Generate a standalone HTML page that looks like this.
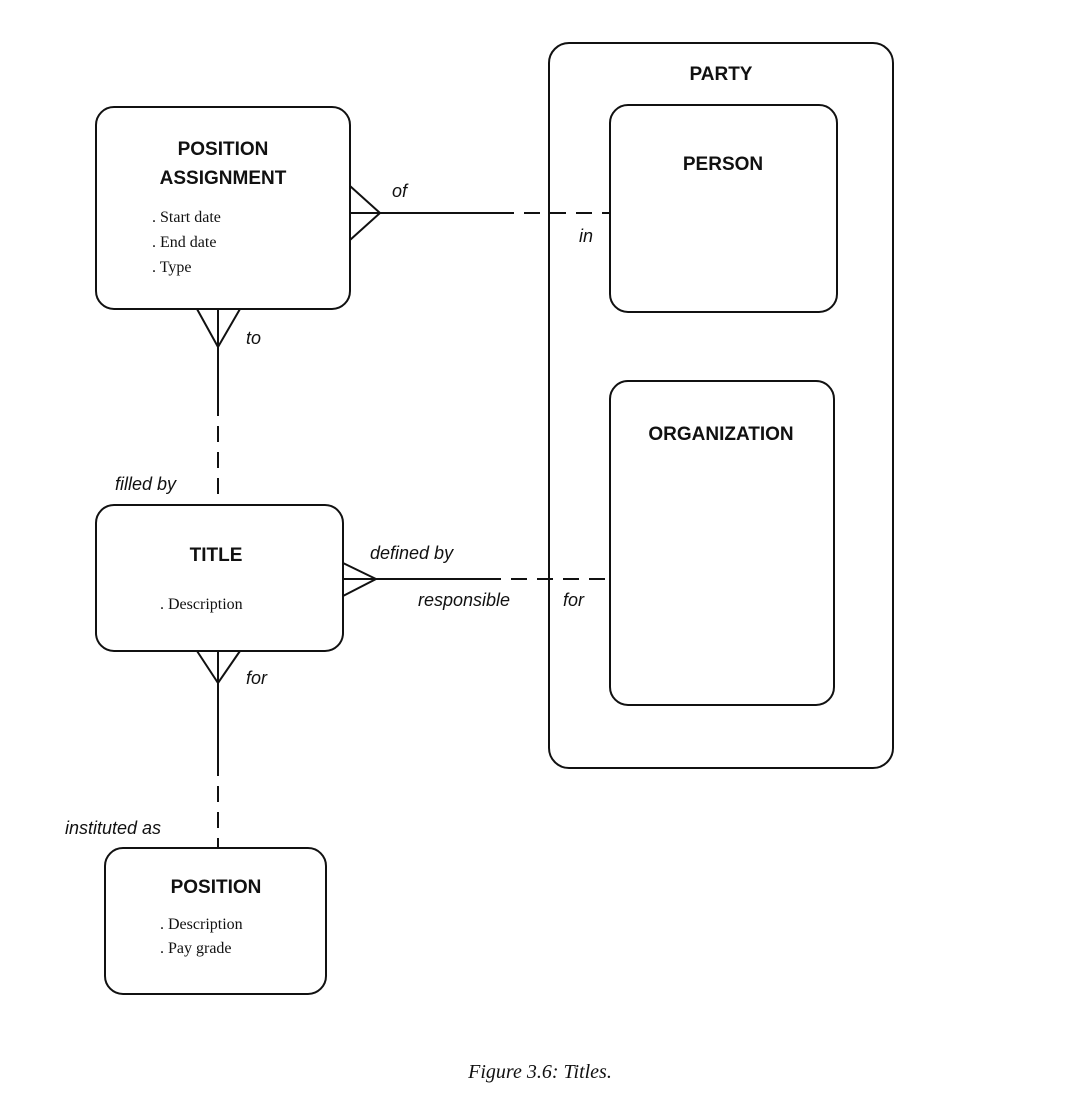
<!DOCTYPE html>
<html><head><meta charset="utf-8"><style>
body{margin:0;background:#fff}
svg text{font-family:"Liberation Sans",sans-serif;fill:#111}
.b{font-weight:bold;font-size:19px}
.i{font-style:italic;font-size:18px}
.s{font-family:"Liberation Serif",serif !important;font-size:16px}
</style></head><body>
<svg width="1080" height="1113" viewBox="0 0 1080 1113" xmlns="http://www.w3.org/2000/svg">
<g fill="none" stroke="#111" stroke-width="2">
<rect x="549" y="43" width="344" height="725" rx="20"/>
<rect x="610" y="105" width="227" height="207" rx="18"/>
<rect x="610" y="381" width="224" height="324" rx="18"/>
<rect x="96" y="107" width="254" height="202" rx="18"/>
<rect x="96" y="505" width="247" height="146" rx="18"/>
<rect x="105" y="848" width="221" height="146" rx="18"/>
<!-- PA - person -->
<path d="M350 186 L380 213 L350 240 M350 213 L498 213"/>
<path d="M498 213 L610 213" stroke-dasharray="16,10"/>
<!-- PA - title -->
<path d="M197 309 L218 347 L240 309 M218 309 L218 400"/>
<path d="M218 400 L218 505" stroke-dasharray="16,10"/>
<!-- title - org -->
<path d="M343 563 L376 579 L343 596 M343 579 L485 579"/>
<path d="M485 579 L610 579" stroke-dasharray="16,10"/>
<!-- title - position -->
<path d="M197 651 L218 683 L240 651 M218 651 L218 760"/>
<path d="M218 760 L218 848" stroke-dasharray="16,10"/>
</g>
<text class="b" x="721" y="80" text-anchor="middle">PARTY</text>
<text class="b" x="723" y="170" text-anchor="middle">PERSON</text>
<text class="b" x="721" y="440" text-anchor="middle">ORGANIZATION</text>
<text class="b" x="223" y="155" text-anchor="middle">POSITION</text>
<text class="b" x="223" y="184" text-anchor="middle">ASSIGNMENT</text>
<text class="s" x="152" y="222">. Start date</text>
<text class="s" x="152" y="247">. End date</text>
<text class="s" x="152" y="272">. Type</text>
<text class="b" x="216" y="561" text-anchor="middle">TITLE</text>
<text class="s" x="160" y="609">. Description</text>
<text class="b" x="216" y="893" text-anchor="middle">POSITION</text>
<text class="s" x="160" y="929">. Description</text>
<text class="s" x="160" y="953">. Pay grade</text>
<text class="i" x="392" y="197">of</text>
<text class="i" x="579" y="242">in</text>
<text class="i" x="246" y="344">to</text>
<text class="i" x="115" y="490">filled by</text>
<text class="i" x="370" y="559">defined by</text>
<text class="i" x="418" y="606">responsible</text>
<text class="i" x="563" y="606">for</text>
<text class="i" x="246" y="684">for</text>
<text class="i" x="65" y="834">instituted as</text>
<text x="540" y="1078" text-anchor="middle" style="font-family:'Liberation Serif',serif;font-style:italic;font-size:20px">Figure 3.6:  Titles.</text>
</svg>
</body></html>
